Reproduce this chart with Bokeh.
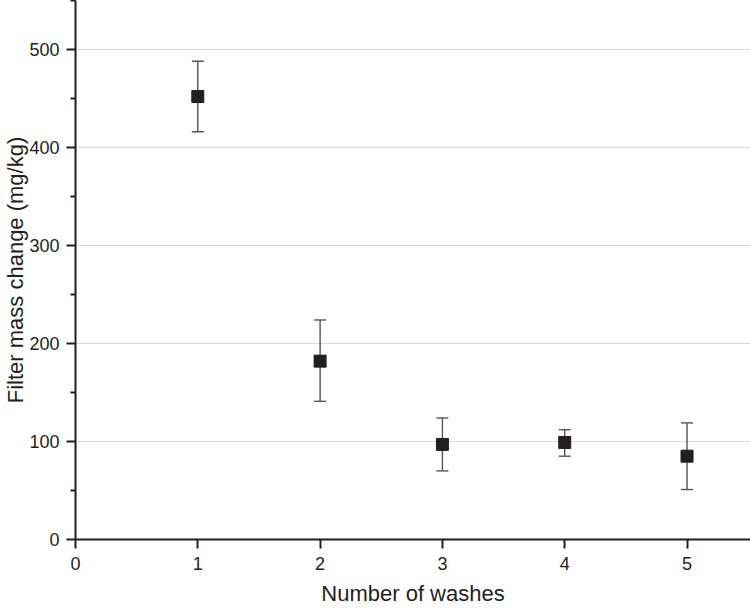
from bokeh.plotting import figure
from bokeh.models import ColumnDataSource, Whisker, TeeHead, Range1d, FixedTicker
from bokeh.embed import file_html
from bokeh.resources import INLINE

washes = [1, 2, 3, 4, 5]
mass_change = [452, 182, 97, 99, 85]
err_upper = [488, 224, 124, 112, 119]
err_lower = [416, 141, 70, 85, 51]
x_ticks = [0, 1, 2, 3, 4, 5]
y_ticks = [0, 100, 200, 300, 400, 500]
y_minor = [50, 150, 250, 350, 450, 550]
x_title = "Number of washes"
y_title = "Filter mass change (mg/kg)"

FONT = "Liberation Sans"
AXC = "#231f20"
ERRC = "#555555"

src = ColumnDataSource(dict(x=washes, y=mass_change, upper=err_upper, lower=err_lower))

p = figure(width=750, height=608, output_backend="svg", toolbar_location=None,
           x_range=Range1d(0, 5.519), y_range=Range1d(0, 550),
           min_border_left=75, min_border_right=0, min_border_top=0, min_border_bottom=69)
p.outline_line_color = None
p.background_fill_color = "white"

w = Whisker(source=src, base="x", upper="upper", lower="lower",
            line_color=ERRC, line_width=1.4,
            upper_head=TeeHead(size=12, line_color=ERRC, line_width=1.4),
            lower_head=TeeHead(size=12, line_color=ERRC, line_width=1.4))
p.add_layout(w)
p.scatter("x", "y", source=src, marker="square", size=12, fill_color=AXC, line_color=AXC)

p.xgrid.visible = False
p.ygrid.grid_line_color = "#d9d9d9"
p.ygrid.grid_line_width = 1

p.xaxis.ticker = FixedTicker(ticks=x_ticks)
p.yaxis.ticker = FixedTicker(ticks=y_ticks, minor_ticks=y_minor)
p.ygrid.ticker = FixedTicker(ticks=y_ticks[1:])

for ax in (p.xaxis[0], p.yaxis[0]):
    ax.axis_line_color = AXC
    ax.axis_line_width = 2
    ax.major_tick_line_color = AXC
    ax.major_tick_line_width = 2
    ax.minor_tick_line_color = AXC
    ax.minor_tick_line_width = 2
    ax.major_tick_in = 0
    ax.major_tick_out = 9
    ax.minor_tick_in = 0
    ax.minor_tick_out = 5
    ax.major_label_text_font = FONT
    ax.major_label_text_font_size = "18px"
    ax.major_label_text_color = AXC
    ax.axis_label_text_font = FONT
    ax.axis_label_text_font_size = "22px"
    ax.axis_label_text_font_style = "normal"
    ax.axis_label_text_color = AXC

p.xaxis.minor_tick_out = 0
p.xaxis.major_label_standoff = 8
p.yaxis.major_label_standoff = 7
p.xaxis.axis_label = x_title
p.yaxis.axis_label = y_title
p.xaxis.axis_label_standoff = 8
p.xaxis.axis_label_text_line_height = 0.5
p.yaxis.axis_label_standoff = -2

open("out.html", "w").write(file_html(p, INLINE))
